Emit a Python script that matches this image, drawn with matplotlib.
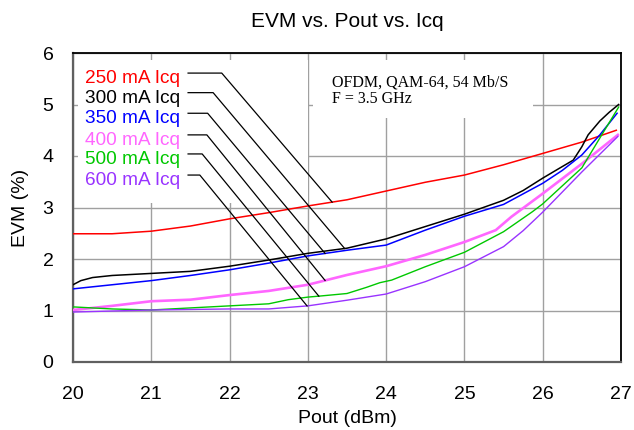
import matplotlib
matplotlib.use("Agg")
import matplotlib.pyplot as plt
import numpy as np
from matplotlib.patches import Rectangle

plt.rcParams['font.family'] = ['Liberation Sans', 'DejaVu Sans']

# ---- data ----
x_250 = [20, 20.5, 21, 21.5, 22, 22.5, 23, 23.5, 24, 24.5, 25, 25.5, 26, 26.5, 26.94]
y_250 = [2.49, 2.49, 2.54, 2.64, 2.78, 2.90, 3.03, 3.15, 3.32, 3.49, 3.63, 3.83, 4.05, 4.27, 4.50]

x_300 = [20, 20.1, 20.25, 20.5, 21, 21.5, 22, 22.5, 23, 23.5, 24, 24.5, 25, 25.5, 25.75, 26,
         26.2, 26.39, 26.5, 26.58, 26.73, 26.85, 26.97]
y_300 = [1.50, 1.58, 1.64, 1.68, 1.72, 1.76, 1.86, 1.98, 2.11, 2.21, 2.39, 2.63, 2.87, 3.14, 3.33, 3.57,
         3.75, 3.92, 4.18, 4.41, 4.68, 4.85, 5.00]

x_350 = [20, 20.5, 21, 21.5, 22, 22.5, 23, 23.5, 24, 24.5, 25, 25.5, 26, 26.25, 26.5, 26.73, 26.95]
y_350 = [1.42, 1.50, 1.58, 1.68, 1.79, 1.92, 2.06, 2.17, 2.27, 2.56, 2.83, 3.06, 3.47, 3.72, 4.02, 4.41, 4.83]

x_400 = [20, 20.5, 21, 21.5, 22, 22.5, 23, 23.5, 24, 24.5, 25, 25.4, 25.6, 26, 26.5, 26.96]
y_400 = [1.01, 1.09, 1.18, 1.21, 1.30, 1.38, 1.50, 1.69, 1.86, 2.08, 2.33, 2.56, 2.82, 3.27, 3.85, 4.41]

x_500 = [20, 20.5, 21, 21.5, 22, 22.5, 22.75, 23, 23.15, 23.5, 23.75, 23.92, 24.01, 24.07, 24.5, 25,
         25.5, 25.87, 26, 26.5, 26.73, 26.97]
y_500 = [1.07, 1.03, 1.01, 1.05, 1.09, 1.13, 1.21, 1.26, 1.28, 1.33, 1.45, 1.54, 1.57, 1.59, 1.85, 2.13,
         2.53, 2.92, 3.07, 3.77, 4.35, 4.95]

x_600 = [20, 20.5, 21, 21.5, 22, 22.5, 23, 23.5, 24, 24.5, 25, 25.5, 25.75, 26, 26.5, 26.96]
y_600 = [0.97, 0.99, 1.01, 1.02, 1.03, 1.03, 1.09, 1.20, 1.32, 1.56, 1.85, 2.24, 2.55, 2.91, 3.69, 4.38]

labels = ['250 mA Icq', '300 mA Icq', '350 mA Icq', '400 mA Icq', '500 mA Icq', '600 mA Icq']
colors = ['#ff0000', '#000000', '#0000ff', '#ff66ff', '#00c800', '#9933ff']
widths = [1.1, 1.1, 1.1, 1.9, 1.0, 1.0]
series_x = [x_250, x_300, x_350, x_400, x_500, x_600]
series_y = [y_250, y_300, y_350, y_400, y_500, y_600]

# label annotation layout (data units)
label_text_y = [5.51, 5.11, 4.72, 4.31, 3.94, 3.53]
leader_y = [5.61, 5.23, 4.83, 4.41, 4.04, 3.63]
leader_elbow_x = [21.90, 21.79, 21.72, 21.71, 21.65, 21.62]
leader_end_x = [23.31, 23.47, 23.22, 23.22, 23.14, 22.99]

x_ticks = [20, 21, 22, 23, 24, 25, 26, 27]
y_ticks = [0, 1, 2, 3, 4, 5, 6]

fig = plt.figure(figsize=(6.34, 4.30), dpi=100)
ax = fig.add_axes([73/634, 1 - 362/430, (621-73)/634, (362-53)/430])
ax.set_xlim(20, 27)
ax.set_ylim(0, 6)
ax.set_xticks(x_ticks)
ax.set_yticks(y_ticks)
ax.grid(True, color='#a0a0a0', lw=1.0, zorder=0)
ax.set_axisbelow(True)
ax.tick_params(length=0, labelsize=14)
ax.tick_params(axis='x', pad=17)
ax.tick_params(axis='y', pad=14)
for s in ['top', 'right']:
    ax.spines[s].set_color('black')
    ax.spines[s].set_linewidth(1.3)
for s in ['left', 'bottom']:
    ax.spines[s].set_color('#606060')
    ax.spines[s].set_linewidth(1.6)

# white boxes covering grid
ax.add_patch(Rectangle((20.06, 3.09), 23.0 - 20.06, 5.86 - 3.09, facecolor='white',
                       edgecolor='none', zorder=1))
ax.add_patch(Rectangle((23.07, 4.74), 25.875 - 23.07, 5.86 - 4.74, facecolor='white',
                       edgecolor='none', zorder=1))

for xs, ys, c, w in zip(series_x, series_y, colors, widths):
    ax.plot(xs, ys, color=c, lw=w, zorder=3, solid_joinstyle='round')

for i, (lab, c) in enumerate(zip(labels, colors)):
    ax.text(20.15, label_text_y[i], lab, color=c, fontsize=13.7, va='center', ha='left', zorder=4)
    ye = np.interp(leader_end_x[i], series_x[i], series_y[i])
    ax.plot([21.47, leader_elbow_x[i], leader_end_x[i]], [leader_y[i], leader_y[i], ye],
            color='black', lw=0.9, zorder=4)

ax.text(23.31, 5.27, 'OFDM, QAM-64, 54 Mb/S\nF = 3.5 GHz', family=['Liberation Serif', 'DejaVu Serif'],
        fontsize=11.5, va='center', ha='left', linespacing=1.0, zorder=4)

ax.set_title('EVM vs. Pout vs. Icq', fontsize=15, pad=19)
ax.set_xlabel('Pout (dBm)', fontsize=14, labelpad=5)
ax.set_ylabel('EVM (%)', fontsize=14, labelpad=10)

fig.savefig('out.png', dpi=100)
